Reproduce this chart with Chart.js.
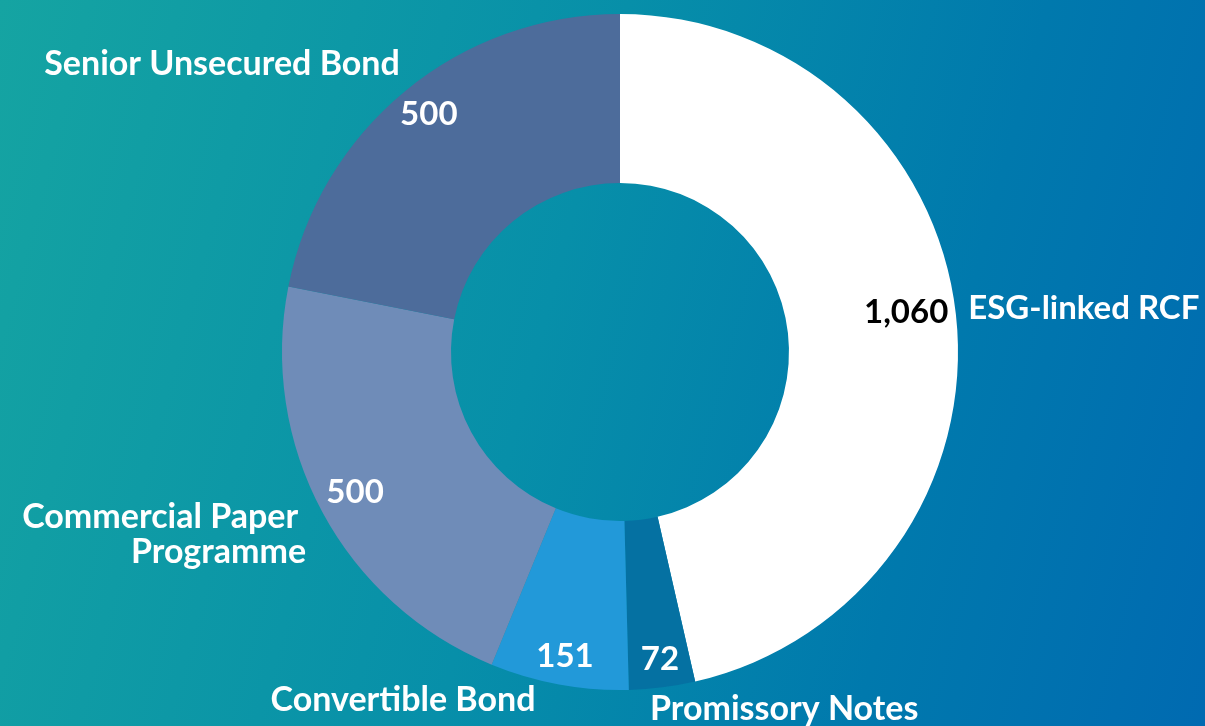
<!DOCTYPE html>
<html>
<head>
<meta charset="utf-8">
<script src="https://cdn.jsdelivr.net/npm/chart.js@4.4.1/dist/chart.umd.min.js"></script>
<style>
  html, body { margin: 0; padding: 0; }
  body {
    width: 1205px; height: 726px; overflow: hidden;
    background: linear-gradient(105deg, #15a4a2 0%, #078fa9 45%, #0079ad 75%, #006ab1 100%);
  }
  #wrap { position: relative; width: 1205px; height: 726px; }
</style>
</head>
<body>
<div id="wrap"><canvas id="debtChart" width="1205" height="726"></canvas></div>
<script>
// --- Datos ---
const categorias = ['ESG-linked RCF', 'Promissory Notes', 'Convertible Bond', 'Commercial Paper Programme', 'Senior Unsecured Bond'];
const etiquetas = [['ESG-linked RCF'], ['Promissory Notes'], ['Convertible Bond'], ['Commercial Paper', 'Programme'], ['Senior Unsecured Bond']];
const valores = [1060, 72, 151, 500, 500];
const colores = ['#ffffff', '#0571a2', '#2299d9', '#6f8cb8', '#4d6c9b'];
const coloresValor = ['#000000', '#ffffff', '#ffffff', '#ffffff', '#ffffff'];

const FUENTE_VALOR = 'bold 33px Lato';

// plugin de etiquetas: valor dentro del arco, nombre afuera
const etiquetasPlugin = {
    id: 'etiquetasDona',
    afterDatasetsDraw(chart, args, opts) {
        const ctx = chart.ctx;
        const meta = chart.getDatasetMeta(0);
        ctx.save();
        ctx.textBaseline = 'middle';
        meta.data.forEach((arc, i) => {
            const p = arc.getProps(['x', 'y', 'startAngle', 'endAngle', 'outerRadius'], true);
            const mid = (p.startAngle + p.endAngle) / 2;
            const r = p.outerRadius * 0.9;
            const ax = p.x + Math.cos(mid) * r;
            const ay = p.y + Math.sin(mid) * r;

            const vo = opts.valor[i];
            ctx.font = FUENTE_VALOR;
            ctx.fillStyle = coloresValor[i];
            ctx.textAlign = vo.align;
            ctx.fillText(valores[i].toLocaleString('en-US'), ax + vo.dx, ay + vo.dy);

            const no = opts.nombre[i];
            ctx.font = 'bold ' + (no.size || 34) + 'px Lato';
            ctx.fillStyle = '#ffffff';
            ctx.textAlign = no.align;
            etiquetas[i].forEach((linea, k) => {
                ctx.fillText(linea, ax + no.dx + (no.lx ? no.lx[k] : 0), ay + no.dy + k * 35);
            });
        });
        ctx.restore();
    }
};

new Chart(document.getElementById('debtChart'), {
    type: 'doughnut',
    data: {
        labels: categorias,
        datasets: [{
            data: valores,
            backgroundColor: colores,
            borderWidth: 0,
            hoverOffset: 0
        }]
    },
    options: {
        responsive: false,
        animation: false,
        cutout: '50%',
        layout: { padding: { top: 14, bottom: 36, left: 35, right: 0 } },
        plugins: {
            legend: { display: false },
            tooltip: { enabled: false },
            etiquetasDona: {
                valor: [
                    { dx: 26, dy: -6, align: 'right' },
                    { dx: 2, dy: 6, align: 'center' },
                    { dx: 0, dy: 5, align: 'center' },
                    { dx: 3, dy: -4, align: 'center' },
                    { dx: 2, dy: -3, align: 'center' }
                ],
                nombre: [
                    { dx: 46, dy: -10, align: 'left', size: 33 },
                    { dx: -8, dy: 55, align: 'left' },
                    { dx: -162, dy: 49, align: 'center' },
                    { dx: -50, dy: 21, align: 'right', lx: [-4, 4] },
                    { dx: -27, dy: -53, align: 'right' }
                ]
            }
        }
    },
    plugins: [etiquetasPlugin]
});
</script>
</body>
</html>
